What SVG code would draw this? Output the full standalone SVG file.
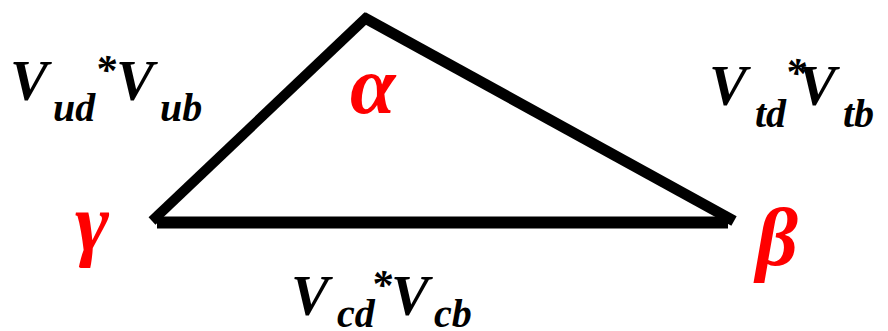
<svg xmlns="http://www.w3.org/2000/svg" width="888" height="331" viewBox="0 0 888 331">
<style>
.edge{stroke:#000;fill:none;stroke-linecap:butt}
.lbl{font-family:"Liberation Serif","Times New Roman",serif;font-weight:bold;font-style:italic;fill:#000;font-size:57px}
.sub{font-size:40px}
.ast{font-size:42px}
.greek{font-family:"Liberation Serif","Times New Roman",serif;font-weight:bold;font-style:italic;fill:#FF0000;font-size:82px}
</style>
<rect width="888" height="331" fill="#fff"/>
<g id="connectors">
<line class="edge" x1="152" y1="221" x2="368" y2="16" stroke-width="10"/>
<line class="edge" x1="363" y1="17" x2="734" y2="221" stroke-width="11"/>
<line class="edge" x1="157" y1="222.5" x2="728" y2="222.5" stroke-width="12"/>
</g>
<g id="label-left">
<text class="lbl"><tspan x="10" y="100">V</tspan><tspan class="sub" x="53" y="121">ud</tspan><tspan class="ast" x="95" y="84">*</tspan><tspan x="116" y="100">V</tspan><tspan class="sub" x="160" y="121">ub</tspan></text>
</g>
<g id="label-right">
<text class="lbl"><tspan x="709" y="105">V</tspan><tspan class="sub" x="755" y="127">td</tspan><tspan class="ast" x="785" y="87">*</tspan><tspan x="798" y="105">V</tspan><tspan class="sub" x="843" y="127">tb</tspan></text>
</g>
<g id="label-bottom">
<text class="lbl"><tspan x="291" y="315">V</tspan><tspan class="sub" x="337" y="327">cd</tspan><tspan class="ast" x="371" y="299">*</tspan><tspan x="391" y="315">V</tspan><tspan class="sub" x="434" y="327">cb</tspan></text>
</g>
<g id="alpha"><text class="greek" x="350" y="113">α</text></g>
<g id="beta"><text class="greek" x="756" y="265">β</text></g>
<g id="gamma"><text class="greek" x="75" y="250">γ</text></g>
</svg>
